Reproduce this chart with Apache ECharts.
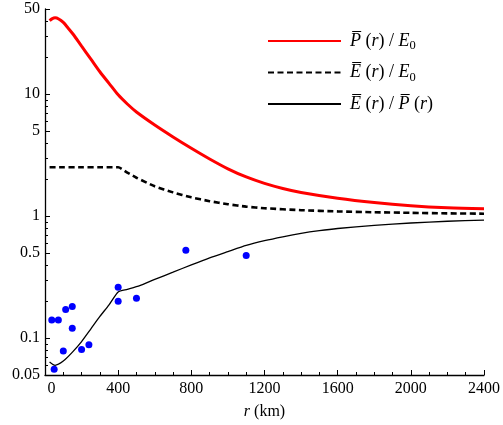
<!DOCTYPE html>
<html>
<head>
<meta charset="utf-8">
<script src="https://cdn.jsdelivr.net/npm/echarts@6/dist/echarts.min.js"></script>
<style>
  html, body { margin: 0; padding: 0; background: #fff; }
  #chart { width: 503px; height: 425px; }
</style>
</head>
<body>
<div id="chart"></div>
<script>
  // r (km) sample points of the curves
  const rP = [25, 40, 55, 75, 100, 125, 155, 200, 250, 300, 350, 400, 450, 500, 600, 700, 800, 900, 1000, 1100, 1200, 1300, 1400, 1600, 1800, 2000, 2200, 2400]
  const pOverE0 = [40.1, 41.7, 42.3, 41.4, 38.8, 35.1, 30.9, 24.8, 19.5, 15.3, 12.3, 9.89, 8.32, 7.16, 5.60, 4.47, 3.61, 2.95, 2.45, 2.10, 1.86, 1.69, 1.567, 1.406, 1.297, 1.222, 1.175, 1.151]

  const rE = [25, 100, 200, 300, 350, 400, 450, 500, 600, 700, 800, 900, 1000, 1100, 1200, 1400, 1600, 1800, 2000, 2200, 2400]
  const eOverE0 = [2.52, 2.52, 2.52, 2.52, 2.52, 2.52, 2.28, 2.07, 1.76, 1.57, 1.43, 1.33, 1.256, 1.20, 1.164, 1.122, 1.096, 1.079, 1.067, 1.057, 1.05]

  const rEP = [25, 55, 100, 150, 200, 250, 300, 350, 400, 450, 518, 600, 700, 800, 900, 1000, 1100, 1200, 1300, 1400, 1500, 1600, 1800, 2000, 2200, 2400]
  const eOverP = [0.064, 0.060, 0.065, 0.077, 0.094, 0.119, 0.151, 0.188, 0.240, 0.252, 0.270, 0.304, 0.348, 0.400, 0.457, 0.514, 0.577, 0.631, 0.679, 0.724, 0.762, 0.794, 0.843, 0.881, 0.910, 0.931]

  // measured points
  const obsR = [37, 73, 113, 149, 149, 100, 50, 200, 240, 400, 400, 500, 770, 1100]
  const obsV = [0.141, 0.141, 0.172, 0.182, 0.121, 0.0785, 0.0557, 0.081, 0.0887, 0.262, 0.201, 0.213, 0.526, 0.476]

  const xTicks = [0, 400, 800, 1200, 1600, 2000, 2400]
  const yMajor = [0.05, 0.1, 0.5, 1, 5, 10, 50]
  const yMinor = [0.06, 0.07, 0.08, 0.09, 0.2, 0.3, 0.4, 0.6, 0.7, 0.8, 0.9, 2, 3, 4, 6, 7, 8, 9, 20, 30, 40]

  const names = ['P', 'E', 'EP']
  const font = 'Liberation Serif'
  const labelRich = {
    i: { fontFamily: font, fontStyle: 'italic', fontSize: 18, color: '#000' },
    s: { fontFamily: font, fontSize: 12.5, color: '#000', verticalAlign: 'bottom', padding: [10, 0, 0, 0] },
    n: { fontFamily: font, fontSize: 18, color: '#000' }
  }
  const tickRich = {
    a: { fontFamily: font, fontSize: 16, color: '#000' },
    z: { fontFamily: font, fontSize: 16, color: '#000', padding: [0, 0, 0, 13] }
  }
  const legendText = {
    P: '{i|P\u0305}{n| (}{i|r}{n|) / }{i|E}{s|0}',
    E: '{i|E\u0305}{n| (}{i|r}{n|) / }{i|E}{s|0}',
    EP: '{i|E\u0305}{n| (}{i|r}{n|) / }{i|P\u0305}{n| (}{i|r}{n|)}'
  }

  const zip = (xs, ys) => xs.map((x, i) => [x, ys[i]])

  const chart = echarts.init(document.getElementById('chart'))
  const option = {
    backgroundColor: '#fff',
    animation: false,
    textStyle: { fontFamily: font },
    grid: { left: 45, right: 18, top: 9, bottom: 42 },
    legend: {
      data: names,
      orient: 'vertical',
      left: 262,
      top: 27,
      itemWidth: 73,
      itemHeight: 14,
      itemGap: 11,
      itemStyle: { opacity: 0 },
      formatter: (name) => legendText[name],
      textStyle: { fontFamily: font, rich: labelRich, padding: [0, 0, 0, 4] }
    },
    xAxis: {
      type: 'value',
      min: 0,
      max: 2400,
      interval: 400,
      name: '{i|r} (km)',
      nameLocation: 'middle',
      nameGap: 29,
      nameTextStyle: {
        fontFamily: font, fontSize: 16, color: '#000',
        rich: { i: { fontFamily: font, fontStyle: 'italic', fontSize: 16, color: '#000' } }
      },
      axisLine: { lineStyle: { color: '#000', width: 1.3 } },
      axisTick: { inside: true, length: 5, lineStyle: { color: '#000' } },
      minorTick: { show: true, splitNumber: 4, length: 3, lineStyle: { color: '#000' } },
      axisLabel: {
        color: '#000', margin: 6,
        customValues: xTicks,
        formatter: (v) => (v === 0 ? '{z|0}' : '{a|' + v + '}'),
        rich: tickRich
      },
      splitLine: { show: false }
    },
    yAxis: [{
      type: 'log',
      min: 0.05,
      max: 50,
      axisLine: { show: true, lineStyle: { color: '#000', width: 1.3 } },
      axisTick: { show: true, inside: true, length: 5, customValues: yMajor, lineStyle: { color: '#000' } },
      axisLabel: {
        color: '#000', margin: 5,
        customValues: yMajor,
        formatter: (v) => '{a|' + (+v.toPrecision(3)) + '}',
        rich: tickRich
      },
      splitLine: { show: false }
    }, {
      type: 'log',
      min: 0.05,
      max: 50,
      position: 'left',
      axisLine: { show: false },
      axisTick: { show: true, inside: true, length: 3, customValues: yMinor, lineStyle: { color: '#000' } },
      axisLabel: { show: false },
      splitLine: { show: false }
    }],
    series: [{
      name: 'P',
      type: 'line',
      showSymbol: false,
      symbol: 'none',
      smooth: 0.3,
      lineStyle: { color: '#ff0000', width: 3 },
      itemStyle: { color: '#ff0000' },
      data: zip(rP, pOverE0)
    }, {
      name: 'E',
      type: 'line',
      showSymbol: false,
      symbol: 'none',
      smooth: 0.2,
      lineStyle: { color: '#000', width: 2.6, type: [6, 3.5] },
      itemStyle: { color: '#000' },
      data: zip(rE, eOverE0)
    }, {
      name: 'EP',
      type: 'line',
      showSymbol: false,
      symbol: 'none',
      smooth: 0.2,
      lineStyle: { color: '#000', width: 1.3 },
      itemStyle: { color: '#000' },
      data: zip(rEP, eOverP)
    }, {
      name: 'obs',
      type: 'scatter',
      symbolSize: 7,
      itemStyle: { color: '#0000ff', opacity: 1 },
      data: zip(obsR, obsV)
    }]
  }
  chart.setOption(option)
</script>
</body>
</html>
